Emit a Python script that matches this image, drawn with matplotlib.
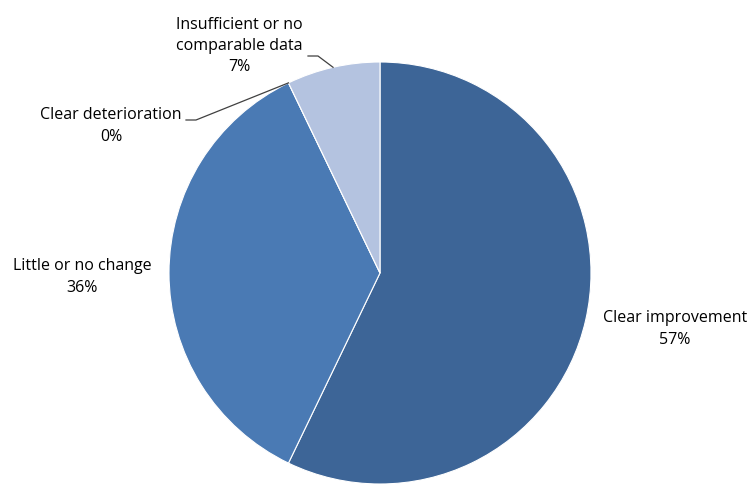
import matplotlib
matplotlib.use("Agg")
import matplotlib.pyplot as plt
import numpy as np

categories = ["Clear improvement", "Little or no change", "Clear deterioration", "Insufficient or no\ncomparable data"]
values = [8, 5, 0, 1]
colors = ["#3D6597", "#4A7AB4", "#4A7AB4", "#B4C3E0"]

W, H = 748, 484
fig = plt.figure(figsize=(7.48, 4.84), dpi=100)
ax = fig.add_axes([0, 0, 1, 1])

cx, cy, r = 380, H - 273, 211
wedges, _ = ax.pie(values, colors=colors, startangle=90, counterclock=False,
                   center=(cx, cy), radius=r, frame=True,
                   wedgeprops=dict(edgecolor="white", linewidth=0.8))
ax.set_xlim(0, W)
ax.set_ylim(0, H)
ax.set_aspect("equal")
ax.axis("off")

total = sum(values)
pcts = [f"{round(v / total * 100):.0f}%" for v in values]

font = dict(family="Open Sans", fontsize=11.5, color="#000000", ha="center", va="center", linespacing=1.45)
label_pos = [(675, 329), (82, 277), (111, 126), (239, 46)]
for cat, p, (lx, ly) in zip(categories, pcts, label_pos):
    ax.text(lx, H - ly, f"{cat}\n{p}", **font)

# leader lines for the small slices (mid-angle computed from data)
cum = np.cumsum([0] + values)
def edge_point(i):
    mid = (cum[i] + cum[i + 1]) / 2 / total * 360
    ang = np.deg2rad(90 - mid)
    return cx + r * np.cos(ang), cy + r * np.sin(ang)

ex, ey = edge_point(2)
ax.plot([ex, 196, 186], [ey, H - 120, H - 120], color="#404040", lw=0.9)
ex, ey = edge_point(3)
ax.plot([ex, 318, 308], [ey, H - 56, H - 56], color="#404040", lw=0.9)

fig.savefig("out.png", dpi=100)
